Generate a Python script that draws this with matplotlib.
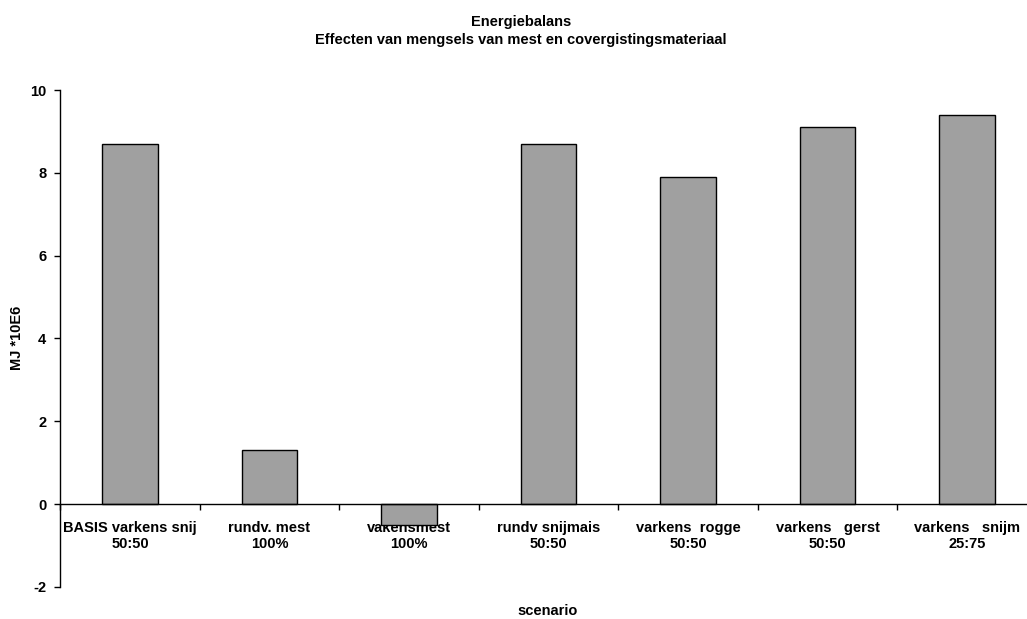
import matplotlib
matplotlib.use('agg')
import matplotlib.pyplot as plt

plt.rcParams['font.family'] = ['Liberation Sans', 'DejaVu Sans']
plt.rcParams['font.weight'] = 'bold'

scenarios = ['BASIS varkens snij\n50:50', 'rundv. mest\n100%', 'vakensmest\n100%',
             'rundv snijmais\n50:50', 'varkens  rogge\n50:50', 'varkens   gerst\n50:50',
             'varkens   snijm\n25:75']
energy = [8.7, 1.3, -0.5, 8.7, 7.9, 9.1, 9.4]
y_ticks = [-2, 0, 2, 4, 6, 8, 10]

W, H = 1027, 619
fig = plt.figure(figsize=(W / 100, H / 100), dpi=100)
ax = fig.add_axes([60.25 / W, 32.2 / H, 976.5 / W, 496.8 / H])

x = list(range(len(scenarios)))
ax.bar(x, energy, width=0.4, color='#a0a0a0', edgecolor='black', linewidth=1.0, zorder=2)

ax.set_xlim(-0.5, len(scenarios) - 0.5)
ax.set_ylim(-2, 10)
ax.set_yticks(y_ticks)
ax.set_yticklabels([str(v) for v in y_ticks], fontsize=10.5, fontweight='bold')

ax.spines['top'].set_visible(False)
ax.spines['right'].set_visible(False)
ax.spines['bottom'].set_position(('data', 0))
ax.spines['bottom'].set_zorder(3)
ax.spines['left'].set_linewidth(1.0)
ax.spines['bottom'].set_linewidth(1.0)

# category boundaries carry the tick marks, labels sit at the centres
ax.set_xticks([i - 0.5 for i in range(len(scenarios) + 1)])
ax.set_xticklabels([])
ax.set_xticks(x, minor=True)
ax.set_xticklabels(scenarios, minor=True, fontsize=10.5, fontweight='bold')
ax.tick_params(axis='x', which='major', direction='out', length=4, width=1)
ax.tick_params(axis='x', which='minor', length=0, pad=12)
ax.tick_params(axis='y', direction='out', length=4, width=1, pad=6)

fig.text(521 / W, 1 - 31 / H, 'Energiebalans\nEffecten van mengsels van mest en covergistingsmateriaal',
         ha='center', va='center', fontsize=10.5, fontweight='bold', linespacing=1.35)
fig.text(17 / W, 1 - 338 / H, 'MJ *10E6', rotation=90, ha='center', va='center',
         fontsize=10.5, fontweight='bold')
fig.text(548 / W, 1 - 611 / H, 'scenario', ha='center', va='center',
         fontsize=10.5, fontweight='bold')

fig.savefig('out.png', dpi=100)
